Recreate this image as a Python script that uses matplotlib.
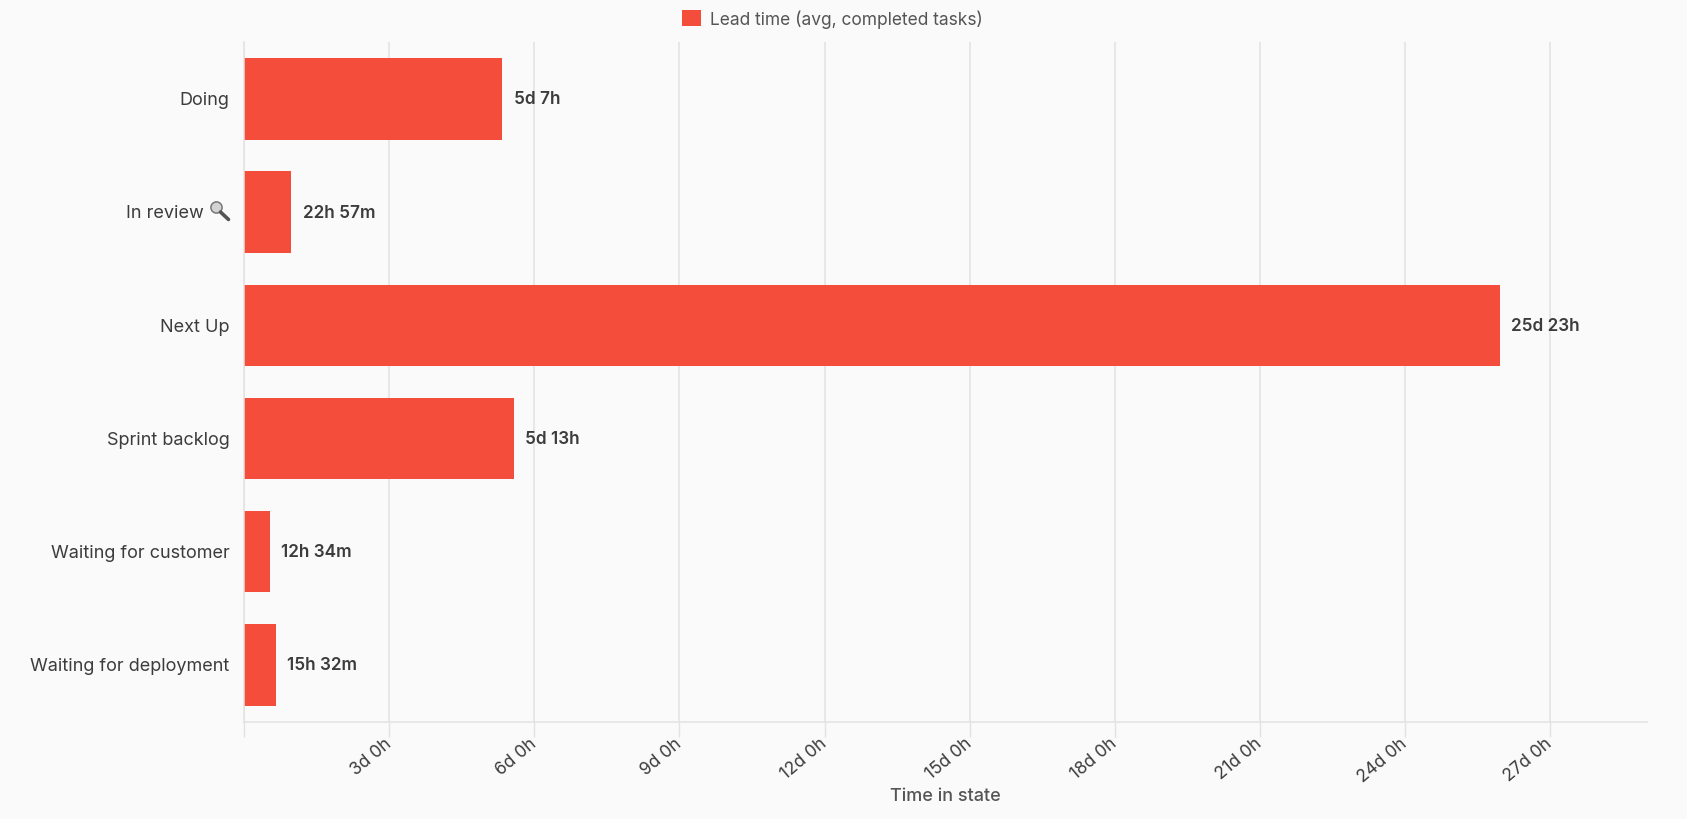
import matplotlib
matplotlib.use("Agg")
import matplotlib.pyplot as plt
from matplotlib.ticker import FixedLocator
from matplotlib.patches import Circle
from matplotlib.lines import Line2D
from matplotlib.transforms import ScaledTranslation

categories = ["Doing", "In review\u00a0\u00a0\u00a0\u00a0\u00a0", "Next Up", "Sprint backlog",
              "Waiting for customer", "Waiting for deployment"]
lead_days = [5.33, 0.96, 25.96, 5.57, 0.524, 0.647]
value_labels = ["5d 7h", "22h 57m", "25d 23h", "5d 13h", "12h 34m", "15h 32m"]
tick_days = [0, 3, 6, 9, 12, 15, 18, 21, 24, 27]
tick_labels = ["", "3d 0h", "6d 0h", "9d 0h", "12d 0h", "15d 0h", "18d 0h",
               "21d 0h", "24d 0h", "27d 0h"]
series_name = "Lead time (avg, completed tasks)"
x_title = "Time in state"

W, H = 1687, 820
BG = "#fafafa"
BAR = "#f54d3b"
GRID = "#e2e2e2"
TXT = "#3c3c3c"
plt.rcParams["font.family"] = ["Inter", "DejaVu Sans"]

fig = plt.figure(figsize=(W / 100, H / 100), dpi=100, facecolor=BG)
L, R, T, B = 244.3, 1646.5, 43.3, 722.5
ax = fig.add_axes([L / W, 1 - B / H, (R - L) / W, (B - T) / H], facecolor=BG)
y = list(range(len(categories)))
ax.set_axisbelow(True)
ax.grid(axis="x", color=GRID, lw=1.1)
bars = ax.barh(y, lead_days, height=0.72, color=BAR, label=series_name)
ax.set_xlim(0, 29.0)
ax.set_ylim(len(categories) - 0.5, -0.5)
for s in ["top", "right"]:
    ax.spines[s].set_visible(False)
for s in ["left", "bottom"]:
    ax.spines[s].set_color(GRID)
    ax.spines[s].set_linewidth(1.1)
ax.xaxis.set_major_locator(FixedLocator(tick_days))
ax.set_xticklabels(tick_labels, rotation=40, ha="right", va="center", rotation_mode="anchor",
                   fontsize=12.5, color=TXT)
ax.tick_params(axis="x", length=11, width=1.0, color=GRID, pad=3)
ax.set_yticks(y)
ax.set_yticklabels(categories, fontsize=13, color=TXT, va="center_baseline")
ax.tick_params(axis="y", length=0, pad=10.6)
for lab in ax.get_yticklabels():
    lab.set_transform(lab.get_transform() + ScaledTranslation(0, 1.3 / 100, fig.dpi_scale_trans))
for v, yy, lab in zip(lead_days, y, value_labels):
    ax.annotate(lab, (v, yy), xytext=(8.5, 0), textcoords="offset points",
                va="center", ha="left", fontsize=12.4, fontweight="semibold", color=TXT)
ax.set_xlabel(x_title, fontsize=13, fontweight="medium", color="#555555", labelpad=0)
ax.xaxis.set_label_coords(0.5, -(797 - B) / (B - T), transform=ax.transAxes)
ax.xaxis.label.set_va("center")

leg = fig.legend(handles=[bars], labels=[series_name], loc="center left",
                 bbox_to_anchor=(682 / W, 1 - 19.3 / H), frameon=False, fontsize=12.5,
                 borderpad=0, borderaxespad=0,
                 handlelength=1.12, handleheight=1.05, handletextpad=0.5, labelcolor="#555555")

# magnifying-glass emoji beside the "In review" label
cx, cy = 217.5, 210
ax_over = fig.add_axes([0, 0, 1, 1], facecolor="none")
ax_over.set_xlim(0, W)
ax_over.set_ylim(H, 0)
ax_over.axis("off")
ax_over.add_line(Line2D([cx + 3, cx + 11], [cy + 3, cy + 10.5], color="#555555", lw=2.6,
                        solid_capstyle="round"))
ax_over.add_patch(Circle((cx - 1, cy - 1.5), 5.6, fc="#d3d3d3", ec="#777777", lw=1.1))
fig.savefig("out.png", dpi=100, facecolor=BG)
